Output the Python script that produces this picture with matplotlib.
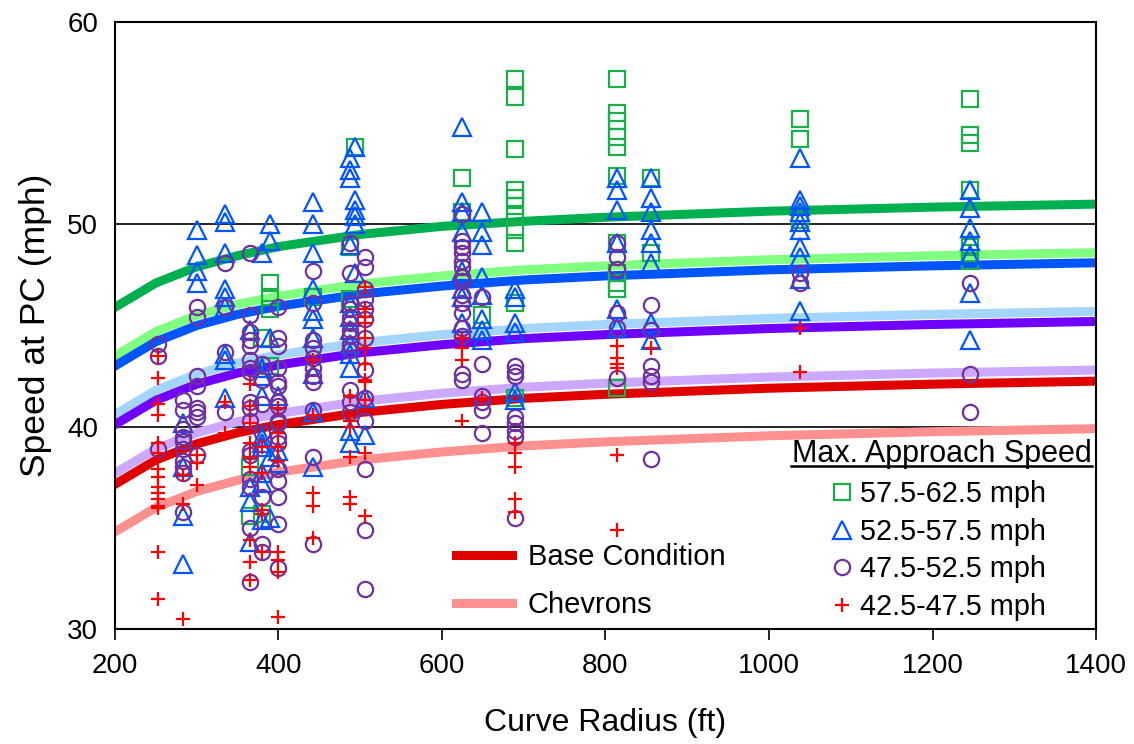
import numpy as np
import matplotlib.pyplot as plt
from matplotlib.lines import Line2D

plt.rcParams['font.family'] = ['Liberation Sans', 'DejaVu Sans']

#%% data

# curve radius points for the fitted lines
curve_radius = [200, 250, 300, 350, 400, 500, 600, 700, 800, 1000, 1200, 1400]

# 57.5-62.5 mph
fit_60_chev = [45.9, 47.1, 47.9, 48.45, 48.9, 49.5, 49.9, 50.15, 50.35, 50.65, 50.85, 51.0]
fit_60_base = [43.5, 44.7, 45.5, 46.05, 46.45, 47.05, 47.45, 47.75, 47.95, 48.25, 48.45, 48.6]
# 52.5-57.5 mph
fit_55_chev = [43.0, 44.2, 45.0, 45.55, 45.95, 46.55, 46.95, 47.25, 47.45, 47.75, 47.95, 48.1]
fit_55_base = [40.6, 41.8, 42.6, 43.15, 43.55, 44.15, 44.55, 44.85, 45.05, 45.35, 45.55, 45.7]
# 47.5-52.5 mph
fit_50_chev = [40.1, 41.3, 42.1, 42.65, 43.05, 43.65, 44.05, 44.35, 44.55, 44.85, 45.05, 45.2]
fit_50_base = [37.7, 38.9, 39.7, 40.25, 40.65, 41.25, 41.65, 41.95, 42.15, 42.45, 42.65, 42.8]
# 42.5-47.5 mph
fit_45_base = [37.15, 38.35, 39.15, 39.7, 40.1, 40.7, 41.1, 41.4, 41.6, 41.9, 42.1, 42.25]
fit_45_chev = [34.8, 36.0, 36.8, 37.35, 37.75, 38.35, 38.75, 39.05, 39.25, 39.55, 39.75, 39.9]

# observed speeds at PC, radius -> speeds
pts_60 = {
    365: [38.0, 35.6],
    380: [44.4, 35.7],
    390: [47.1, 46.4, 45.8, 43.0],
    442: [46.4],
    487: [46.3, 48.9],
    494: [53.8],
    624: [52.3, 50.6],
    649: [45.5],
    689: [57.2, 56.3, 53.7, 51.7, 51.3, 50.9, 50.4, 49.7, 49.1, 46.1, 41.4],
    814: [57.2, 55.5, 55.1, 54.3, 53.8, 52.4, 49.1, 47.6, 47.1, 46.8, 41.9],
    856: [52.3, 48.6],
    1038: [55.2, 54.2, 50.2],
    1246: [56.2, 54.4, 54.0, 51.7, 48.9, 48.6, 48.2],
}
pts_55 = {
    283: [40.2, 38.0, 35.6, 33.2],
    300: [49.7, 48.5, 47.7, 47.1],
    335: [50.5, 50.1, 48.6, 46.8, 46.4, 45.9, 43.6, 43.3, 41.4],
    365: [44.8, 37.0, 36.3, 34.3],
    380: [48.6, 42.9, 42.5, 41.5, 39.5, 39.2, 39.0, 37.7, 37.2, 35.4],
    390: [50.0, 49.2, 44.4, 38.5, 35.5],
    400: [41.5, 38.8, 38.2],
    442: [51.1, 50.0, 48.6, 46.8, 45.7, 45.3, 44.4, 42.6, 40.7, 38.0],
    487: [53.3, 52.7, 52.3, 49.0, 46.1, 45.4, 44.8, 44.1, 43.6, 42.9, 39.8, 39.2],
    494: [53.8, 51.2, 50.7, 50.4, 50.0, 47.6],
    506: [41.4, 39.6],
    624: [54.8, 51.1, 50.6, 49.6, 47.7, 46.8, 46.4, 45.1],
    649: [50.6, 49.6, 49.0, 47.4, 46.5, 45.3, 44.8, 44.3],
    689: [46.8, 46.4, 45.1, 44.7, 41.7, 41.3],
    814: [52.3, 51.7, 50.7, 49.1, 45.8, 44.9],
    856: [52.3, 51.3, 50.6, 49.7, 49.1, 48.1, 45.1, 44.3],
    1038: [53.3, 51.2, 50.9, 50.6, 50.1, 49.7, 48.9, 48.4, 47.3, 45.7],
    1246: [51.7, 50.8, 49.8, 49.2, 48.5, 46.6, 44.3],
}
pts_50 = {
    253: [44.1, 43.5, 38.9],
    283: [41.3, 40.8, 39.9, 39.5, 39.3, 38.9, 38.3, 38.0, 37.7, 35.8],
    300: [45.9, 45.4, 42.5, 42.0, 40.9, 40.7, 40.5, 38.6],
    335: [48.1, 45.9, 43.7, 40.7],
    365: [48.6, 45.5, 44.7, 44.3, 44.0, 43.3, 42.9, 42.7, 41.2, 40.9, 40.3, 38.8,
          38.6, 37.4, 37.0, 35.0, 32.3],
    380: [43.1, 42.3, 41.1, 39.7, 36.5, 34.2, 33.8],
    400: [45.9, 44.4, 44.0, 42.9, 42.2, 42.0, 41.2, 41.0, 40.3, 40.2, 39.5, 39.2,
          37.9, 37.3, 36.5, 35.2, 33.0],
    442: [47.7, 46.1, 44.3, 43.9, 43.4, 42.9, 42.5, 42.2, 40.8, 38.5, 34.2],
    487: [49.1, 47.6, 46.1, 45.8, 45.4, 45.1, 44.8, 44.5, 44.1, 43.8, 41.8, 41.2, 40.7],
    506: [48.4, 47.9, 46.8, 46.3, 45.8, 45.3, 44.4, 42.8, 41.4, 40.3, 37.9, 34.9, 32.0],
    624: [50.5, 49.2, 48.9, 48.6, 48.2, 47.9, 47.4, 47.2, 46.5, 46.1, 45.6, 44.9,
          44.5, 42.6, 42.3],
    649: [46.4, 43.1, 41.5, 41.2, 40.8, 39.7],
    689: [43.0, 42.7, 42.5, 40.5, 40.2, 39.8, 39.5, 35.5],
    814: [49.1, 48.4, 47.8, 45.6, 44.9, 42.4],
    856: [46.0, 44.8, 43.0, 42.5, 42.2, 38.4],
    1038: [47.6, 47.1],
    1246: [47.1, 42.6, 40.7],
}
pts_45 = {
    253: [43.5, 42.4, 41.1, 40.6, 39.2, 38.7, 37.9, 37.5, 37.0, 36.7, 36.4, 36.1,
          36.0, 33.8, 31.5],
    283: [37.6, 36.2, 30.5],
    300: [38.6, 38.2, 37.1],
    335: [41.2, 39.7],
    365: [42.1, 41.0, 40.2, 39.2, 38.5, 38.0, 34.4, 33.3, 32.4],
    380: [39.0, 37.7, 35.9, 35.7, 33.8],
    400: [40.9, 39.7, 39.0, 38.3, 33.8, 33.4, 32.8, 30.6],
    442: [43.3, 40.6, 36.7, 36.1, 34.5],
    487: [41.5, 40.3, 40.0, 38.5, 36.5, 36.2],
    506: [46.9, 45.8, 45.4, 45.1, 44.4, 43.9, 43.1, 42.3, 42.2, 41.3, 38.7, 35.6],
    624: [44.4, 43.9, 43.3, 40.3],
    649: [41.4],
    689: [39.2, 38.7, 38.0, 36.4, 35.8],
    814: [44.0, 43.4, 43.1, 42.9, 38.6, 34.9],
    856: [43.9],
    1038: [44.9, 42.7],
}


def flat(pts):
    # dict(radius -> speeds) -> x, y arrays
    x, y = [], []
    for r, s in pts.items():
        x += [r] * len(s)
        y += s
    return np.array(x), np.array(y)


#%% 그래프
fig = plt.figure(figsize=(11.34, 7.44), dpi=100)
ax = fig.add_axes([0.1014, 0.1546, 0.8651, 0.8158])

# grid lines at 40 / 50
for g in [40, 50]:
    ax.axhline(g, color='k', lw=1.2, zorder=0)

lw = 6.5
ax.plot(curve_radius, fit_60_chev, color='#00B050', lw=lw, zorder=1)
ax.plot(curve_radius, fit_60_base, color='#80FF80', lw=lw, zorder=1)
ax.plot(curve_radius, fit_55_chev, color='#0055FF', lw=lw, zorder=1)
ax.plot(curve_radius, fit_55_base, color='#A3D5FF', lw=lw, zorder=1)
ax.plot(curve_radius, fit_50_chev, color='#7000FF', lw=lw, zorder=1)
ax.plot(curve_radius, fit_50_base, color='#CCA8FF', lw=lw, zorder=1)
ax.plot(curve_radius, fit_45_base, color='#E00000', lw=lw, zorder=1)
ax.plot(curve_radius, fit_45_chev, color='#FF9090', lw=lw, zorder=1)

mk = dict(ls='none', mfc='none', mew=1.6, zorder=3)
x, y = flat(pts_60)
h60, = ax.plot(x, y, marker='s', ms=12, mec='#1BAF4B', **mk)
x, y = flat(pts_55)
h55, = ax.plot(x, y, marker='^', ms=13.5, mec='#0055FF', **mk)
x, y = flat(pts_50)
h50, = ax.plot(x, y, marker='o', ms=11, mec='#7030A0', **mk)
x, y = flat(pts_45)
h45, = ax.plot(x, y, marker='+', ms=10, mec='#FF0000', **mk)

ax.set_xlim(200, 1400)
ax.set_ylim(30, 60)
ax.set_xticks(np.arange(200, 1401, 200))
ax.set_yticks([30, 40, 50, 60])
ax.tick_params(axis='x', direction='out', length=8, width=1.2, labelsize=20, pad=9)
ax.tick_params(axis='y', length=0, labelsize=20, pad=12)
for sp in ax.spines.values():
    sp.set_linewidth(1.5)

ax.set_xlabel('Curve Radius (ft)', fontsize=23, labelpad=21)
ax.set_ylabel('Speed at PC (mph)', fontsize=25.5, labelpad=11)

# line legend
leg1 = ax.legend([Line2D([], [], color='#E00000', lw=lw), Line2D([], [], color='#FF9090', lw=lw)],
                 ['Base Condition', 'Chevrons'], loc='upper left', bbox_to_anchor=(0.333, 0.165),
                 frameon=False, fontsize=21, handlelength=1.9, handletextpad=0.55,
                 labelspacing=0.68, borderpad=0)
ax.add_artist(leg1)

# marker legend
leg2 = ax.legend([h60, h55, h50, h45],
                 ['57.5-62.5 mph', '52.5-57.5 mph', '47.5-52.5 mph', '42.5-47.5 mph'],
                 loc='upper left', bbox_to_anchor=(0.718, 0.269), frameon=False, fontsize=20.8,
                 handlelength=0.6, handletextpad=0.3, labelspacing=0.33, borderpad=0)
leg2.set_zorder(5)

# legend title, underlined
ax.text(0.996, 0.2751, 'Max. Approach Speed', fontsize=22, ha='right', va='baseline',
        transform=ax.transAxes, zorder=5)
ax.plot([0.689, 0.996], [0.2685, 0.2685], color='k', lw=1.8, transform=ax.transAxes,
        clip_on=False, zorder=5)

plt.savefig('out.png', dpi=100)
